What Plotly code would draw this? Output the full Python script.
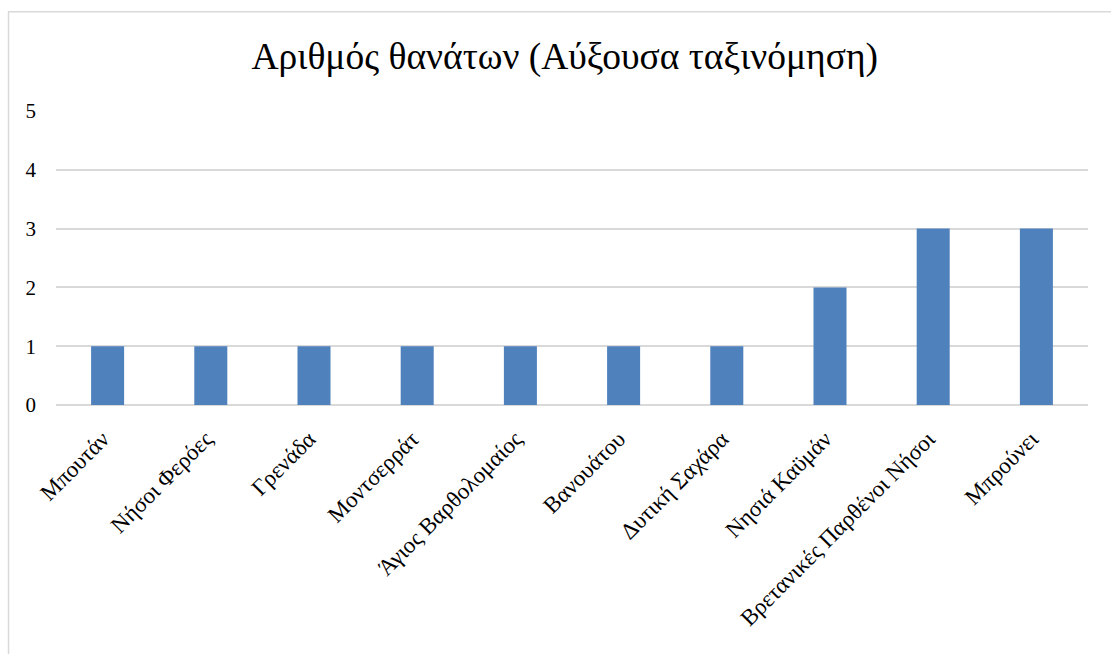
"""Bar chart: deaths per country, ascending order."""

import plotly.graph_objects as go

countries = [
    "Μπουτάν",
    "Νήσοι Φερόες",
    "Γρενάδα",
    "Μοντσερράτ",
    "Άγιος Βαρθολομαίος",
    "Βανουάτου",
    "Δυτική Σαχάρα",
    "Νησιά Καϋμάν",
    "Βρετανικές Παρθένοι Νήσοι",
    "Μπρούνει",
]
deaths = [1, 1, 1, 1, 1, 1, 1, 2, 3, 3]
y_ticks = [0, 1, 2, 3, 4, 5]

SERIF = "Liberation Serif"

fig = go.Figure()
fig.add_trace(go.Bar(
    x=countries,
    y=deaths,
    marker=dict(color="#4F81BD", line=dict(width=0)),
    width=0.32,
))

fig.update_layout(
    title=dict(
        text="Αριθμός θανάτων (Αύξουσα ταξινόμηση)",
        xref="paper", x=0.493, xanchor="center", y=0.915, yanchor="middle",
        font=dict(family=SERIF, size=37.5, color="#000000"),
    ),
    width=1111, height=654,
    margin=dict(l=56, r=23, t=111, b=249),
    plot_bgcolor="white",
    paper_bgcolor="white",
    showlegend=False,
    font=dict(family=SERIF, color="#000000"),
    xaxis=dict(
        tickangle=-45,
        tickfont=dict(size=23, family=SERIF),
        showgrid=False,
        showline=False,
        ticks="",
        ticklabelstandoff=15,
        ticklabelshift=-5,
    ),
    yaxis=dict(
        range=[0, 5],
        tickvals=y_ticks,
        tickfont=dict(size=21, family=SERIF),
        showgrid=True,
        gridcolor="#d9d9d9",
        gridwidth=1.5,
        zeroline=True,
        zerolinecolor="#d9d9d9",
        zerolinewidth=1.5,
        showline=False,
        ticks="",
        ticklabelstandoff=19,
    ),
    shapes=[dict(
        type="rect", xref="paper", yref="paper",
        x0=-0.046, x1=1.2, y0=-1.2, y1=1.338,
        line=dict(color="#d9d9d9", width=1.5),
        fillcolor="rgba(0,0,0,0)",
        layer="below",
    )],
)

fig.write_html(
    "out.html",
    config={"displayModeBar": False},
    post_script="document.body.style.margin='0';",
)
